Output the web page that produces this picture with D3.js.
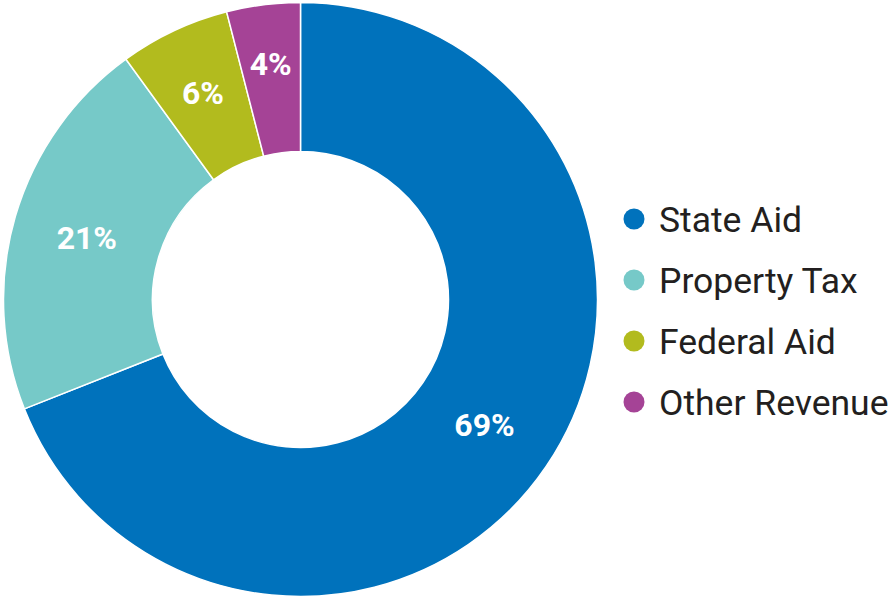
<!DOCTYPE html>
<html>
<head>
<meta charset="utf-8">
<script src="https://cdn.jsdelivr.net/npm/d3@7"></script>
<style>
  body { margin: 0; background: #fff; }
  svg { display: block; font-family: Roboto, sans-serif; }
</style>
</head>
<body>
<div class="canvas"></div>
<script>
// revenue shares, clockwise from 12 o'clock
const categories = ['State Aid', 'Property Tax', 'Federal Aid', 'Other Revenue']
const values = [69, 21, 6, 4]
const colors = ['#0072BC', '#76C9C8', '#B2BB1E', '#A54396']

const dims = { width: 891, height: 597 }

const svg = d3.select('.canvas').append('svg')
  .attr('width', dims.width)
  .attr('height', dims.height)

const outer = 297
const inner = 148
const graph = svg.append('g').attr('transform', 'translate(300.5,299.5)')

const data = categories.map((c, i) => ({ name: c, value: values[i], color: colors[i] }))

const pie = d3.pie().sort(null).value(d => d.value)
const arc = d3.arc().innerRadius(inner).outerRadius(outer)

// thin slices get their label pushed a bit toward the outer edge
const labelR = d => d.data.value < 5 ? 238 : d.data.value < 10 ? 229 : (inner + outer) / 2
const labelArc = d => d3.arc().innerRadius(labelR(d)).outerRadius(labelR(d)).centroid(d)

const slices = graph.selectAll('.slice').data(pie(data)).enter()
  .append('g').attr('class', 'slice')

slices.append('path')
  .attr('d', arc)
  .attr('fill', d => d.data.color)
  .attr('stroke', '#fff')
  .attr('stroke-width', 1.5)

slices.append('text')
  .attr('transform', d => `translate(${labelArc(d)})`)
  .attr('text-anchor', 'middle')
  .attr('dy', '0.36em')
  .attr('fill', '#fff')
  .attr('font-weight', 'bold')
  .attr('font-size', 32)
  .text(d => d.data.value + '%')

// legend
const legend = svg.append('g').attr('transform', 'translate(634,219)')
const items = legend.selectAll('.item').data(data).enter()
  .append('g').attr('class', 'item')
  .attr('transform', (d, i) => `translate(0,${i * 61})`)

items.append('circle')
  .attr('r', 10.5)
  .attr('fill', d => d.color)

items.append('text')
  .attr('x', 25)
  .attr('dy', '0.36em')
  .attr('font-size', 35.5)
  .attr('fill', '#231F20')
  .text(d => d.name)
</script>
</body>
</html>
